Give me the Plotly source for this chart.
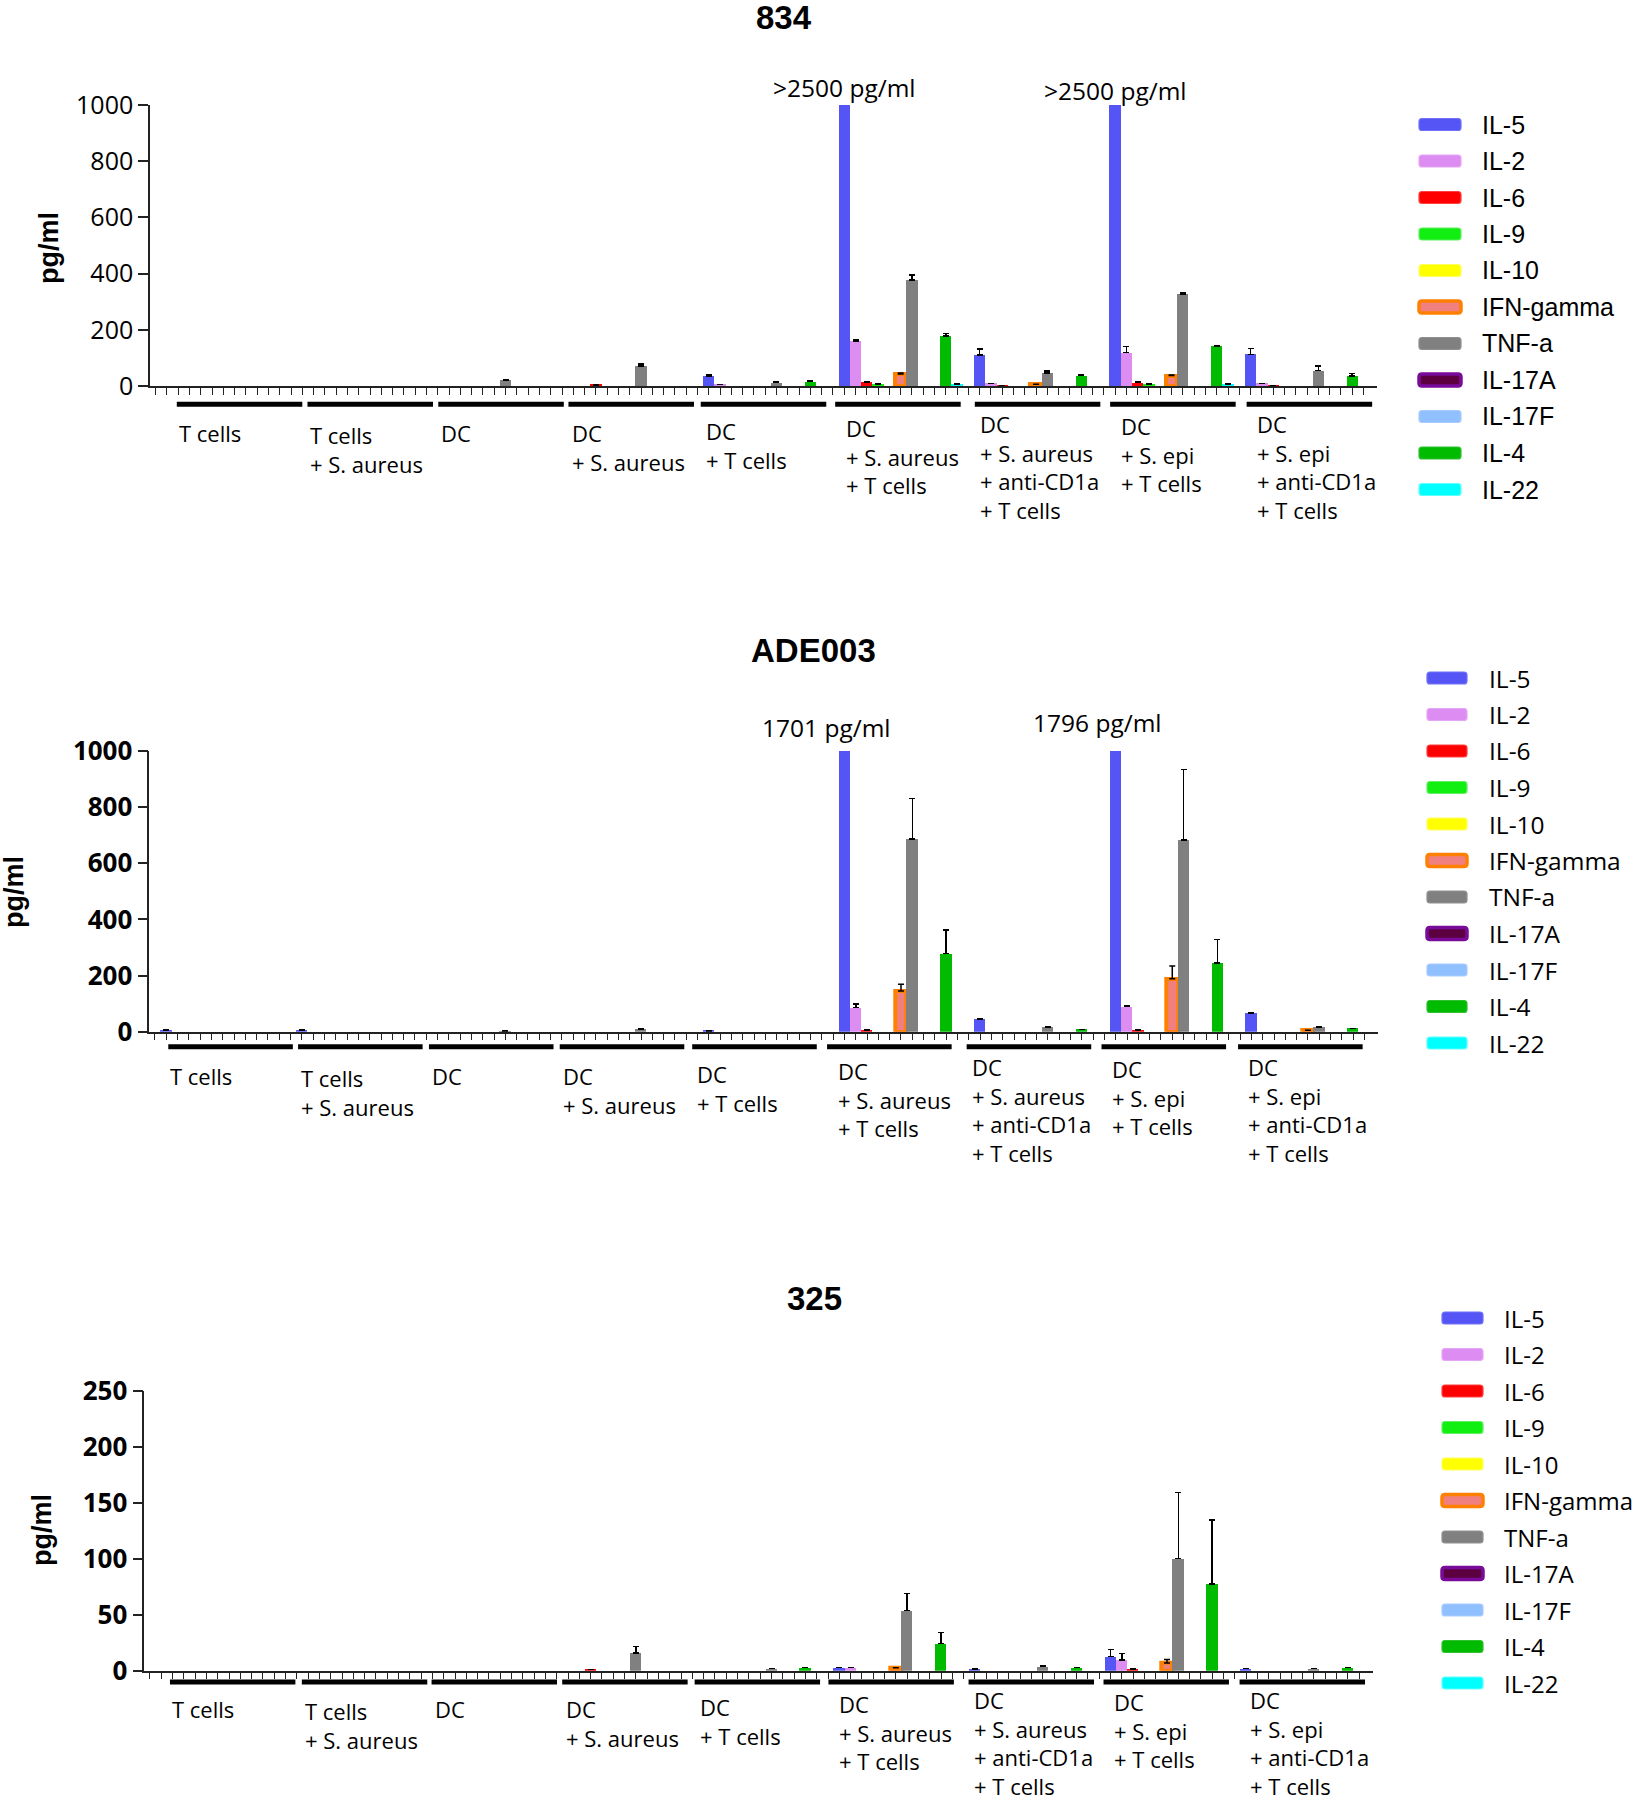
import plotly.graph_objects as go

W, H = 1639, 1800
OFF_X, OFF_Y = 0, 0

# ---------------- data ----------------
panel_titles = ["834", "ADE003", "325"]
groups = ["T cells", "T cells<br>+ S. aureus", "DC", "DC<br>+ S. aureus", "DC<br>+ T cells",
          "DC<br>+ S. aureus<br>+ T cells", "DC<br>+ S. aureus<br>+ anti-CD1a<br>+ T cells",
          "DC<br>+ S. epi<br>+ T cells", "DC<br>+ S. epi<br>+ anti-CD1a<br>+ T cells"]
cytokines = ["IL-5", "IL-2", "IL-6", "IL-9", "IL-10", "IFN-gamma", "TNF-a", "IL-17A", "IL-17F", "IL-4", "IL-22"]

# rows = cytokines, columns = groups (pg/ml); upper error bars
v834 = [
    [0, 0, 0, 0, 36, 2500, 110, 2500, 113],   # IL-5
    [0, 0, 0, 0, 5, 160, 9, 119, 9],          # IL-2
    [0, 0, 0, 4, 0, 14, 2, 12, 2],            # IL-6
    [0, 0, 0, 0, 0, 7, 0, 7, 0],              # IL-9
    [0, 0, 0, 0, 0, 0, 0, 0, 0],              # IL-10
    [0, 0, 0, 0, 0, 43, 6, 37, 0],            # IFN-gamma
    [0, 0, 22, 72, 12, 377, 47, 326, 55],     # TNF-a
    [0, 0, 0, 0, 0, 0, 0, 0, 0],              # IL-17A
    [0, 0, 0, 0, 0, 0, 0, 0, 0],              # IL-17F
    [0, 0, 0, 0, 16, 178, 37, 143, 36],       # IL-4
    [0, 0, 0, 0, 0, 7, 0, 7, 0],              # IL-22
]
e834 = [
    [0, 0, 0, 0, 4, 0, 22, 0, 20],
    [0, 0, 0, 0, 0, 5, 0, 21, 0],
    [0, 0, 0, 1, 0, 2, 0, 2, 0],
    [0, 0, 0, 0, 0, 0, 0, 0, 0],
    [0, 0, 0, 0, 0, 0, 0, 0, 0],
    [0, 0, 0, 0, 0, 3, 0, 2, 0],
    [0, 0, 2, 6, 2, 18, 6, 5, 16],
    [0, 0, 0, 0, 0, 0, 0, 0, 0],
    [0, 0, 0, 0, 0, 0, 0, 0, 0],
    [0, 0, 0, 0, 2, 8, 3, 1, 9],
    [0, 0, 0, 0, 0, 0, 0, 0, 0],
]
vADE003 = [
    [5, 5, 0, 0, 3, 1701, 44, 1796, 65],
    [0, 0, 0, 0, 0, 86, 0, 89, 0],
    [0, 0, 0, 0, 0, 6, 0, 6, 0],
    [0, 0, 0, 0, 0, 0, 0, 0, 0],
    [0, 0, 0, 0, 0, 0, 0, 0, 0],
    [0, 0, 0, 0, 0, 145, 0, 189, 5],
    [0, 0, 2, 10, 0, 686, 16, 683, 17],
    [0, 0, 0, 0, 0, 0, 0, 0, 0],
    [0, 0, 0, 0, 0, 0, 0, 0, 0],
    [0, 0, 0, 0, 0, 278, 8, 244, 12],
    [0, 0, 0, 0, 0, 0, 0, 0, 0],
]
eADE003 = [
    [1, 1, 0, 0, 0, 0, 1, 0, 1],
    [0, 0, 0, 0, 0, 12, 0, 5, 0],
    [0, 0, 0, 0, 0, 0, 0, 0, 0],
    [0, 0, 0, 0, 0, 0, 0, 0, 0],
    [0, 0, 0, 0, 0, 0, 0, 0, 0],
    [0, 0, 0, 0, 0, 24, 0, 45, 0],
    [0, 0, 1, 2, 0, 145, 2, 252, 2],
    [0, 0, 0, 0, 0, 0, 0, 0, 0],
    [0, 0, 0, 0, 0, 0, 0, 0, 0],
    [0, 0, 0, 0, 0, 84, 0, 85, 0],
    [0, 0, 0, 0, 0, 0, 0, 0, 0],
]
v325 = [
    [0, 0, 0, 0, 0, 3, 1.5, 12.5, 1.8],
    [0, 0, 0, 0, 0, 3, 0, 9.5, 0],
    [0, 0, 0, 1.2, 0, 0, 0, 1.5, 0],
    [0, 0, 0, 0, 0, 0, 0, 0, 0],
    [0, 0, 0, 0, 0, 0, 0, 0, 0],
    [0, 0, 0, 0, 0, 2.7, 0, 6.8, 0],
    [0, 0, 0, 16, 2, 53.6, 3.9, 100, 2],
    [0, 0, 0, 0, 0, 0, 0, 0, 0],
    [0, 0, 0, 0, 0, 0, 0, 0, 0],
    [0, 0, 0, 0, 2.7, 24.4, 3, 77.4, 3],
    [0, 0, 0, 0, 0, 0, 0, 0, 0],
]
e325 = [
    [0, 0, 0, 0, 0, 0, 0, 6.5, 0],
    [0, 0, 0, 0, 0, 0, 0, 6, 0],
    [0, 0, 0, 0, 0, 0, 0, 0, 0],
    [0, 0, 0, 0, 0, 0, 0, 0, 0],
    [0, 0, 0, 0, 0, 0, 0, 0, 0],
    [0, 0, 0, 0, 0, 0, 0, 3.3, 0],
    [0, 0, 0, 5.4, 0, 15.5, 0.8, 59, 0],
    [0, 0, 0, 0, 0, 0, 0, 0, 0],
    [0, 0, 0, 0, 0, 0, 0, 0, 0],
    [0, 0, 0, 0, 0, 9.5, 0, 57, 0],
    [0, 0, 0, 0, 0, 0, 0, 0, 0],
]
y_max = [1000, 1000, 250]
y_dtick = [200, 200, 50]
clip_labels = [[(0, 5, ">2500 pg/ml"), (0, 7, ">2500 pg/ml")],
               [(0, 5, "1701 pg/ml"), (0, 7, "1796 pg/ml")],
               []]

# ---------------- style ----------------
fill_colors = ["#5555f5", "#dd8cf2", "#ff0000", "#11ee11", "#ffff00", "#f08080",
               "#808080", "#5c0040", "#90c0ff", "#00bb00", "#00ffff"]
line_colors = ["#7070f8", "#e6a6f6", "#ff4040", "#60f060", "#ffff60", "#ff7f00",
               "#909090", "#7a0a9a", "#a8ccff", "#30c030", "#60ffff"]
line_widths = [0, 0, 0, 0, 0, 4, 0, 4, 0, 0, 0]

SLOTS = 12
X_RANGE = [-1.5, 107.2]

panels = [
    dict(v=v834, e=e834, x0=150, x1=1377, ytop=105, ybot=386, bold=False, tick_size=25,
         title_xy=(784, 17), ytitle_xy=(49, 248), ul_y=404.3, lab_dy=0,
         ul_start=[0.874, 12.45, 24.04, 35.57, 47.29, 59.2, 71.57, 83.56, 95.65], ul_w=11.12,
         leg=dict(sx0=1419, sx1=1461, y0=124.5, tx=1480, font="Liberation Sans, Arial, sans-serif", size=25),
         clip_xshift=0, clip_y=[87, 90]),
    dict(v=vADE003, e=eADE003, x0=149.3, x1=1378, ytop=751, ybot=1031.7, bold=True, tick_size=26,
         title_xy=(813, 650), ytitle_xy=(14, 892), ul_y=1046.7, lab_dy=0,
         ul_start=[0.18, 11.66, 23.24, 34.81, 46.53, 58.46, 70.81, 82.74, 94.82], ul_w=11.02,
         leg=dict(sx0=1427, sx1=1467, y0=678, tx=1487, font="Open Sans, sans-serif", size=24.5),
         clip_xshift=-18, clip_y=[727, 723]),
    dict(v=v325, e=e325, x0=144.3, x1=1372.7, ytop=1390.7, ybot=1670.7, bold=True, tick_size=26,
         title_xy=(814, 1298), ytitle_xy=(42, 1530), ul_y=1682, lab_dy=-2,
         ul_start=[0.77, 12.44, 23.92, 35.48, 47.2, 59.04, 71.44, 83.38, 95.42], ul_w=11.1,
         leg=dict(sx0=1442, sx1=1483, y0=1318, tx=1502, font="Open Sans, sans-serif", size=24),
         clip_xshift=0, clip_y=[0, 0]),
]
label_dx = [0, 1, 1, 1.5, 3, 8.5, 3, 8.5, 8]
label_dy = [0, 2, 0, 0, -2, -5, -9, -7, -9]
LEG_STEP = 36.5


def fx(p):
    return (p - OFF_X) / W


def fy(p):
    return 1 - (p - OFF_Y) / H


def rrect_path(x0, y0, x1, y1, r):
    X = lambda v: f"{fx(v):.6f}"
    Y = lambda v: f"{fy(v):.6f}"
    return (f"M {X(x0 + r)},{Y(y0)} L {X(x1 - r)},{Y(y0)} Q {X(x1)},{Y(y0)} {X(x1)},{Y(y0 + r)} "
            f"L {X(x1)},{Y(y1 - r)} Q {X(x1)},{Y(y1)} {X(x1 - r)},{Y(y1)} "
            f"L {X(x0 + r)},{Y(y1)} Q {X(x0)},{Y(y1)} {X(x0)},{Y(y1 - r)} "
            f"L {X(x0)},{Y(y0 + r)} Q {X(x0)},{Y(y0)} {X(x0 + r)},{Y(y0)} Z")


fig = go.Figure()
shapes = []
annotations = []
layout_axes = {}

for p, P in enumerate(panels):
    sfx = "" if p == 0 else str(p + 1)
    xref = "x" + sfx
    yref = "y" + sfx
    for j, name in enumerate(cytokines):
        xs = [g * SLOTS + j for g in range(len(groups))]
        ys = [val if val > 0 else None for val in P["v"][j]]
        fig.add_trace(go.Bar(
            x=xs, y=ys, width=1, name=name, showlegend=False,
            xaxis=xref, yaxis=yref,
            marker=dict(color=fill_colors[j], line=dict(color=line_colors[j], width=line_widths[j])),
            error_y=dict(type="data", symmetric=False, array=P["e"][j], arrayminus=[0] * len(groups),
                         color="black", thickness=1.5, width=3),
        ))

    tick_font = dict(family="Open Sans, sans-serif", size=P["tick_size"], color="black",
                     weight=700 if P["bold"] else 400)
    layout_axes["xaxis" + sfx] = dict(
        domain=[fx(P["x0"]), fx(P["x1"])], anchor=yref, range=X_RANGE,
        showline=True, linecolor="#222", linewidth=1.5, ticks="outside",
        tickvals=list(range(-1, 107)), ticklen=7, tickwidth=1.3, tickcolor="#222",
        showticklabels=False, showgrid=False, zeroline=False, fixedrange=True, automargin=False)
    layout_axes["yaxis" + sfx] = dict(
        domain=[fy(P["ybot"]), fy(P["ytop"])], anchor=xref, range=[0, y_max[p]],
        showline=True, linecolor="#222", linewidth=1.5, ticks="outside", ticklen=10,
        tickwidth=1.5, tickcolor="#222", tickmode="linear", tick0=0, dtick=y_dtick[p],
        tickfont=tick_font, showgrid=False, zeroline=False, fixedrange=True, automargin=False)

    # titles
    annotations.append(dict(text=panel_titles[p], x=fx(P["title_xy"][0]), y=fy(P["title_xy"][1]),
                            xref="paper", yref="paper", xanchor="center", yanchor="middle", showarrow=False,
                            font=dict(family="Liberation Sans, Arial, sans-serif", size=33, color="black",
                                      weight=700)))
    annotations.append(dict(text="pg/ml", x=fx(P["ytitle_xy"][0]), y=fy(P["ytitle_xy"][1]),
                            xref="paper", yref="paper", xanchor="center", yanchor="middle", showarrow=False,
                            textangle=-90,
                            font=dict(family="Liberation Sans, Arial, sans-serif", size=27, color="black",
                                      weight=700)))
    # clipped-bar labels
    for k, (cj, cg, txt) in enumerate(clip_labels[p]):
        annotations.append(dict(text=txt, x=cg * SLOTS + cj, xref=xref, y=fy(P["clip_y"][k]), yref="paper",
                                xanchor="center", yanchor="middle", showarrow=False, xshift=P["clip_xshift"],
                                font=dict(family="Open Sans, sans-serif", size=24.5, color="black")))
    # group underlines and labels
    for g, lab in enumerate(groups):
        xs0 = P["ul_start"][g]
        shapes.append(dict(type="line", xref=xref, yref="paper", x0=xs0, x1=xs0 + P["ul_w"],
                           y0=fy(P["ul_y"]), y1=fy(P["ul_y"]), line=dict(color="black", width=5)))
        annotations.append(dict(text=lab, x=xs0, xref=xref, xshift=label_dx[g],
                                y=fy(P["ul_y"] + 30 + label_dy[g] + P["lab_dy"] - 18), yref="paper",
                                xanchor="left", yanchor="top", align="left", showarrow=False,
                                font=dict(family="Open Sans, sans-serif", size=22, color="black")))
    # legend
    L = P["leg"]
    for j, name in enumerate(cytokines):
        cy = L["y0"] + j * LEG_STEP
        lw = 3.5 if line_widths[j] else 1.2
        shapes.append(dict(type="path", xref="paper", yref="paper",
                           path=rrect_path(L["sx0"], cy - 6, L["sx1"], cy + 6, 3),
                           fillcolor=fill_colors[j], line=dict(color=line_colors[j], width=lw)))
        annotations.append(dict(text=name, x=fx(L["tx"]), y=fy(cy), xref="paper", yref="paper",
                                xanchor="left", yanchor="middle", showarrow=False,
                                font=dict(family=L["font"], size=L["size"], color="black")))

fig.update_layout(
    width=W, height=H, margin=dict(l=0, r=0, t=0, b=0, autoexpand=False),
    paper_bgcolor="white", plot_bgcolor="white", barmode="overlay", bargap=0,
    showlegend=False, shapes=shapes, annotations=annotations, **layout_axes)

fig.write_html("out.html", config={"displayModeBar": False},
               post_script="document.body.style.margin='0';document.body.style.padding='0';"
                           "document.documentElement.style.margin='0';")
